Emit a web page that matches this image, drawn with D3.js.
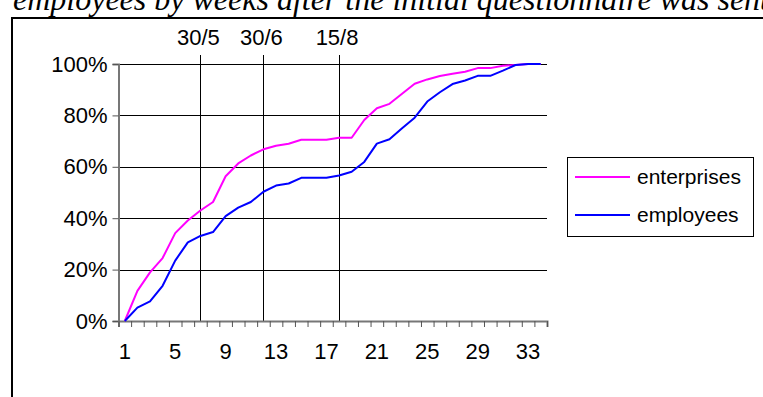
<!DOCTYPE html>
<html>
<head>
<meta charset="utf-8">
<script src="https://cdn.jsdelivr.net/npm/d3@7"></script>
<style>
  html, body { margin: 0; padding: 0; background: #fff; }
  svg { display: block; }
  text { font-family: "Liberation Sans", Arial, sans-serif; fill: #000; }
</style>
</head>
<body>
<svg id="chart" width="763" height="397"></svg>
<script>
// Cumulative share of responses by week after the questionnaire was sent
const weeks = d3.range(1, 35);
const enterprises = [0, 11.7, 18.9, 24.5, 34.2, 39.1, 43, 46.3, 56.3, 61.3, 64.4, 66.8, 68.2, 69, 70.5, 70.5, 70.5,
  71.3, 71.3, 78.2, 82.8, 84.5, 88.4, 92.3, 94, 95.3, 96.2, 97, 98.4, 98.4, 99.3, 99.6, 100, 100];
const employees = [0, 5.2, 7.6, 13.7, 23.5, 30.6, 33.1, 34.6, 40.8, 44.1, 46.3, 50.3, 52.7, 53.5, 55.7, 55.7, 55.7,
  56.6, 58.1, 61.9, 69, 70.7, 75, 79.1, 85.4, 89, 92.2, 93.6, 95.4, 95.4, 97.4, 99.6, 100, 100];
const yTicks = [0, 20, 40, 60, 80, 100];
const xTickLabels = [1, 5, 9, 13, 17, 21, 25, 29, 33];
const markerWeeks = [7, 12, 18];
const markerLabels = ["30/5", "30/6", "15/8"];
const seriesNames = ["enterprises", "employees"];
const seriesColors = ["#ff00ff", "#0000ff"];

const svg = d3.select("#chart");

// title line, partly above the frame
svg.append("text")
  .attr("x", 13).attr("y", 10)
  .style("font-family", "'Liberation Serif', 'Times New Roman', serif")
  .style("font-style", "italic")
  .style("font-size", "32px")
  .text("employees by weeks after the initial questionnaire was sent");

// outer frame
svg.append("rect")
  .attr("x", 12).attr("y", 18)
  .attr("width", 800).attr("height", 420)
  .attr("fill", "none").attr("stroke", "#000").attr("stroke-width", 2);

const plotLeft = 118.5, plotRight = 547, plotTop = 64, plotBottom = 321;

const x = d3.scaleBand().domain(weeks).range([plotLeft, plotRight]).padding(0);
const xc = d => x(d) + x.bandwidth() / 2;
// continuous version for tick marks between weeks
const xEdge = d3.scaleLinear().domain([0.5, 34.5]).range([plotLeft, plotRight]);
const y = d3.scaleLinear().domain([0, 100]).range([plotBottom, plotTop]);

// horizontal gridlines
svg.append("g").selectAll("line")
  .data(yTicks.filter(v => v > 0))
  .join("line")
  .attr("x1", plotLeft).attr("x2", plotRight)
  .attr("y1", d => Math.round(y(d)) + 0.5).attr("y2", d => Math.round(y(d)) + 0.5)
  .attr("stroke", "#000").attr("stroke-width", 1);

// date markers
svg.append("g").selectAll("line")
  .data(markerWeeks)
  .join("line")
  .attr("x1", d => Math.round(xc(d)) + 0.5).attr("x2", d => Math.round(xc(d)) + 0.5)
  .attr("y1", 55).attr("y2", plotBottom)
  .attr("stroke", "#000").attr("stroke-width", 1);
svg.append("g").selectAll("text")
  .data(markerWeeks)
  .join("text")
  .attr("x", d => xc(d) - 2).attr("y", 45)
  .attr("text-anchor", "middle")
  .style("font-size", "22px")
  .text((d, i) => markerLabels[i]);

// y axis
const yAxis = svg.append("g")
  .attr("transform", `translate(${plotLeft},0)`)
  .call(d3.axisLeft(y).tickValues(yTicks).tickFormat(d => d + "%").tickSize(6).tickPadding(5));
yAxis.selectAll("text").style("font-size", "22px").style("font-family", "'Liberation Sans', Arial, sans-serif");

// x axis: tick marks between weeks
const xAxis = svg.append("g")
  .attr("transform", `translate(0,${plotBottom})`)
  .call(d3.axisBottom(xEdge).tickValues(d3.range(0.5, 35, 1)).tickFormat("").tickSize(6));
// x axis labels at week centres
const xLab = svg.append("g")
  .attr("transform", `translate(0,${plotBottom})`)
  .call(d3.axisBottom(x).tickValues(xTickLabels).tickSize(0).tickPadding(22));
xLab.select(".domain").remove();
xLab.selectAll("text").style("font-size", "22px").style("font-family", "'Liberation Sans', Arial, sans-serif");

[yAxis, xAxis].forEach(g => {
  g.select(".domain").attr("stroke", "#777").attr("stroke-width", 2);
  g.selectAll(".tick line").attr("stroke", "#555");
});

// series lines
const line = d3.line().x((d, i) => xc(weeks[i])).y(d => y(d));
[enterprises, employees].forEach((vals, i) => {
  svg.append("path")
    .datum(vals)
    .attr("d", line)
    .attr("fill", "none")
    .attr("stroke", seriesColors[i])
    .attr("stroke-width", 2)
    .attr("stroke-linejoin", "round");
});

// legend
const lg = svg.append("g");
lg.append("rect")
  .attr("x", 567.5).attr("y", 157.5).attr("width", 186).attr("height", 79)
  .attr("fill", "#fff").attr("stroke", "#000").attr("stroke-width", 1);
seriesNames.forEach((name, i) => {
  const ly = 177 + i * 38;
  lg.append("line")
    .attr("x1", 575).attr("x2", 630).attr("y1", ly).attr("y2", ly)
    .attr("stroke", seriesColors[i]).attr("stroke-width", 2);
  lg.append("text")
    .attr("x", 637).attr("y", ly).attr("dy", "0.35em")
    .style("font-size", "21px")
    .text(name);
});
</script>
</body>
</html>
